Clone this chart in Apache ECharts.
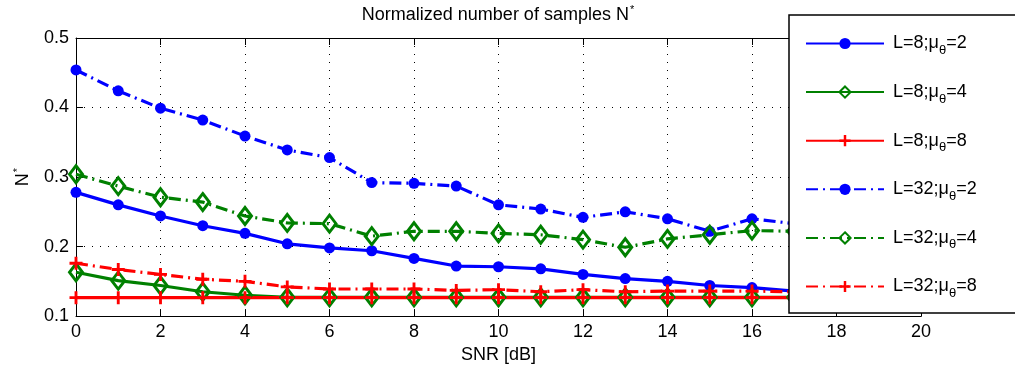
<!DOCTYPE html>
<html>
<head>
<meta charset="utf-8">
<script src="https://cdn.jsdelivr.net/npm/echarts@6/dist/echarts.min.js"></script>
<style>
html,body{margin:0;padding:0;background:#fff;}
#c{width:1015px;height:369px;}
</style>
</head>
<body>
<div id="c"></div>
<script>
var snr = [0,1,2,3,4,5,6,7,8,9,10,11,12,13,14,15,16,17,18,19,20];
var xTicks = [0,2,4,6,8,10,12,14,16,18,20];
var yTicks = [0.1,0.2,0.3,0.4,0.5];
var seriesNames = ['L=8;μ_θ=2','L=8;μ_θ=4','L=8;μ_θ=8','L=32;μ_θ=2','L=32;μ_θ=4','L=32;μ_θ=8'];
var L8mu2  = [0.278,0.260,0.244,0.230,0.219,0.204,0.198,0.194,0.183,0.172,0.171,0.168,0.160,0.154,0.150,0.144,0.141,0.136,0.133,0.131,0.129];
var L8mu4  = [0.163,0.151,0.144,0.135,0.130,0.127,0.127,0.127,0.127,0.127,0.127,0.127,0.127,0.127,0.127,0.127,0.127,0.127,0.127,0.127,0.127];
var L8mu8  = [0.1265,0.1265,0.1265,0.1265,0.1265,0.1265,0.1265,0.1265,0.1265,0.1265,0.1265,0.1265,0.1265,0.1265,0.1265,0.1265,0.1265,0.1265,0.1265,0.1265,0.1265];
var L32mu2 = [0.454,0.424,0.399,0.382,0.359,0.339,0.328,0.292,0.291,0.287,0.260,0.254,0.242,0.250,0.240,0.222,0.240,0.233,0.230,0.226,0.222];
var L32mu4 = [0.304,0.287,0.271,0.264,0.244,0.234,0.233,0.215,0.222,0.222,0.219,0.217,0.210,0.199,0.211,0.217,0.223,0.222,0.221,0.220,0.220];
var L32mu8 = [0.176,0.167,0.160,0.153,0.150,0.142,0.139,0.139,0.139,0.137,0.138,0.135,0.138,0.135,0.136,0.136,0.136,0.135,0.135,0.134,0.134];

var FONT = '"Liberation Sans", Arial, Helvetica, sans-serif';
var BLUE = '#0000ff', GREEN = '#008000', RED = '#ff0000';
var DASHDOT = [12, 5, 2, 5];
var PLUS = 'path://M-1,-0.22H-0.22V-1H0.22V-0.22H1V0.22H0.22V1H-0.22V0.22H-1Z';

function pairs(v){ return snr.map(function(x,i){ return [x, v[i]]; }); }

function mk(name, data, color, dashed, kind){
  var s = {
    name: name, type: 'line', data: pairs(data),
    showSymbol: true, animation: false,
    lineStyle: {color: color, width: 3.2, type: dashed ? DASHDOT : 'solid'},
    emphasis: {disabled: true}
  };
  if (kind === 'circle') {
    s.symbol = 'circle'; s.symbolSize = 11;
    s.itemStyle = {color: color};
  } else if (kind === 'diamond') {
    s.symbol = 'diamond'; s.symbolSize = [13, 17];
    s.itemStyle = {color: 'rgba(255,255,255,0)', borderColor: color, borderWidth: 3};
  } else {
    s.symbol = PLUS; s.symbolSize = 13;
    s.itemStyle = {color: color};
  }
  return s;
}

var richSup = {
  a: {fontFamily: FONT, fontSize: 18, fontWeight: 'normal', color: '#000', lineHeight: 22},
  s: {fontFamily: FONT, fontSize: 11, fontWeight: 'normal', color: '#000', padding: [0,0,10,1], lineHeight: 12}
};

var chart = echarts.init(document.getElementById('c'), null, {renderer: 'canvas'});
chart.setOption({
  backgroundColor: '#fff',
  animation: false,
  title: {
    text: '{a|Normalized number of samples N}{s|*}',
    left: 498, top: 4, textAlign: 'center', padding: 0,
    textStyle: {fontWeight: 'normal', rich: richSup}
  },
  grid: {left: 76, top: 38, right: 94, bottom: 52, containLabel: false},
  xAxis: [{
    type: 'value', min: 0, max: 20, interval: 2,
    name: 'SNR [dB]', nameLocation: 'middle', nameGap: 21,
    nameTextStyle: {fontFamily: FONT, fontSize: 18, color: '#000'},
    axisLine: {show: true, onZero: false, lineStyle: {color: '#000', width: 1}},
    axisTick: {show: true, inside: true, length: 7, lineStyle: {color: '#000'}},
    axisLabel: {fontFamily: FONT, fontSize: 18, color: '#000', margin: 7,
      formatter: function(v){ return xTicks.indexOf(v) >= 0 ? String(v) : ''; }},
    splitLine: {show: true, lineStyle: {color: '#000', width: 1, type: [1, 7]}}
  }, {
    type: 'value', min: 0, max: 20, interval: 2, position: 'top',
    axisLine: {show: true, onZero: false, lineStyle: {color: '#000', width: 1}},
    axisTick: {show: true, inside: true, length: 7, lineStyle: {color: '#000'}},
    axisLabel: {show: false}, splitLine: {show: false}
  }],
  yAxis: [{
    type: 'value', min: 0.1, max: 0.5, interval: 0.1,
    name: '{a|N}{s|*}', nameLocation: 'middle', nameGap: 40, nameRotate: 90,
    nameTextStyle: {rich: richSup},
    axisLine: {show: true, onZero: false, lineStyle: {color: '#000', width: 1}},
    axisTick: {show: true, inside: true, length: 7, lineStyle: {color: '#000'}},
    axisLabel: {fontFamily: FONT, fontSize: 18, color: '#000', margin: 7,
      formatter: function(v){ return v.toFixed(1); }},
    splitLine: {show: true, lineStyle: {color: '#000', width: 1, type: [1, 7]}}
  }, {
    type: 'value', min: 0.1, max: 0.5, interval: 0.1, position: 'right',
    axisLine: {show: true, onZero: false, lineStyle: {color: '#000', width: 1}},
    axisTick: {show: true, inside: true, length: 7, lineStyle: {color: '#000'}},
    axisLabel: {show: false}, splitLine: {show: false}
  }],
  graphic: [{
    type: 'rect', z: 50, silent: true,
    shape: {x: 789, y: 15, width: 260, height: 298},
    style: {fill: '#fff', stroke: '#000', lineWidth: 1.5}
  }],
  legend: {
    orient: 'vertical', left: 805, top: 30, padding: 0, z: 60,
    itemWidth: 78, itemHeight: 14, itemGap: 21.6,
    data: seriesNames,
    formatter: function(n){
      var p = n.split('_θ');
      return '{a|' + p[0] + '}{s|θ}{a|' + p[1] + '}';
    },
    textStyle: {
      padding: [0,0,0,4],
      rich: {
        a: {fontFamily: FONT, fontSize: 18, color: '#000', lineHeight: 22},
        s: {fontFamily: FONT, fontSize: 13, color: '#000', padding: [14,0,0,0], lineHeight: 12}
      }
    },
    selectedMode: false
  },
  series: [
    mk(seriesNames[0], L8mu2, BLUE, false, 'circle'),
    mk(seriesNames[1], L8mu4, GREEN, false, 'diamond'),
    mk(seriesNames[2], L8mu8, RED, false, 'plus'),
    mk(seriesNames[3], L32mu2, BLUE, true, 'circle'),
    mk(seriesNames[4], L32mu4, GREEN, true, 'diamond'),
    mk(seriesNames[5], L32mu8, RED, true, 'plus')
  ]
});
</script>
</body>
</html>
